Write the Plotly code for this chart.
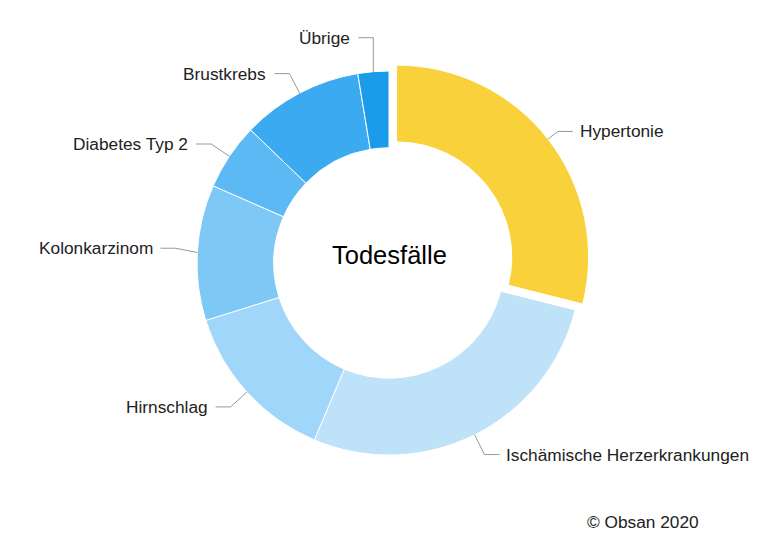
import math
import plotly.graph_objects as go

labels = ["Hypertonie", "Ischämische Herzerkrankungen", "Hirnschlag", "Kolonkarzinom",
          "Diabetes Typ 2", "Brustkrebs", "Übrige"]
values = [28.9, 27.4, 13.8, 11.4, 5.6, 10.2, 2.6]
colors = ["#F9D13A", "#BEE3F9", "#9FD6F9", "#7EC8F6", "#5DB9F3", "#3BAAF0", "#1A9CEB"]
pulls = [0.05, 0, 0, 0, 0, 0, 0]
label_nudge = [0, 0, 0, -3, 0, 0, -12]  # vertical nudge (px) to avoid crowding

W, H = 768, 535
OFF = 8.0  # page body margin compensation
CX, CY = 389.0 - OFF, 263.0 - OFF
R = 192.0
maxpull = max(pulls)
half = R * (1 + maxpull)
dom_x = [(CX - half) / W, (CX + half) / W]
dom_y = [1 - (CY + half) / H, 1 - (CY - half) / H]

FONT = "Liberation Sans, Arial, sans-serif"

fig = go.Figure(go.Pie(
    labels=labels, values=values, sort=False, direction="clockwise", rotation=0,
    hole=0.6, pull=pulls, textinfo="none", hoverinfo="label+value",
    marker=dict(colors=colors, line=dict(color="white", width=1)),
    domain=dict(x=dom_x, y=dom_y),
    showlegend=False,
))

def px(x):
    return x / W

def py(y):
    return 1 - y / H

shapes = []
annotations = []
total = sum(values)
cum = 0.0
LR = 214.0
for lab, v, p, nud in zip(labels, values, pulls, label_nudge):
    mid = (cum + v / 2) / total * 2 * math.pi
    cum += v
    s, c = math.sin(mid), math.cos(mid)
    ocx, ocy = CX + p * R * s, CY - p * R * c
    ox, oy = ocx + R * s, ocy - R * c
    ly = CY - LR * c + nud
    dy = ly - CY
    if dy * dy < LR * LR:
        dx = math.sqrt(LR * LR - dy * dy)
    else:
        dx = 0.0
    right = s > 0
    bx = CX + dx if right else CX - dx
    if abs(bx - CX) < abs(ox - CX):
        bx = ox
    ex = bx + 15 if right else bx - 15
    tx = ex + 5 if right else ex - 6
    path = f"M {px(ox)},{py(oy)} L {px(bx)},{py(ly)} L {px(ex)},{py(ly)}"
    shapes.append(dict(type="path", xref="paper", yref="paper", path=path,
                       line=dict(color="#999999", width=1)))
    annotations.append(dict(x=px(tx), y=py(ly), xref="paper", yref="paper",
                            text=lab, showarrow=False,
                            xanchor="left" if right else "right", yanchor="middle",
                            font=dict(family=FONT, size=17.3, color="#222222")))

annotations.append(dict(x=px(CX), y=py(255 - OFF), xref="paper", yref="paper",
                        text="Todesfälle", showarrow=False, xanchor="center", yanchor="middle",
                        font=dict(family=FONT, size=25.5, color="#000000")))
annotations.append(dict(x=px(701 - OFF), y=py(522 - OFF), xref="paper", yref="paper",
                        text="© Obsan 2020", showarrow=False, xanchor="right", yanchor="middle",
                        font=dict(family=FONT, size=17.3, color="#222222")))

fig.update_layout(width=W, height=H, margin=dict(l=0, r=0, t=0, b=0),
                  paper_bgcolor="white", plot_bgcolor="white",
                  shapes=shapes, annotations=annotations)

fig.write_html("out.html")
